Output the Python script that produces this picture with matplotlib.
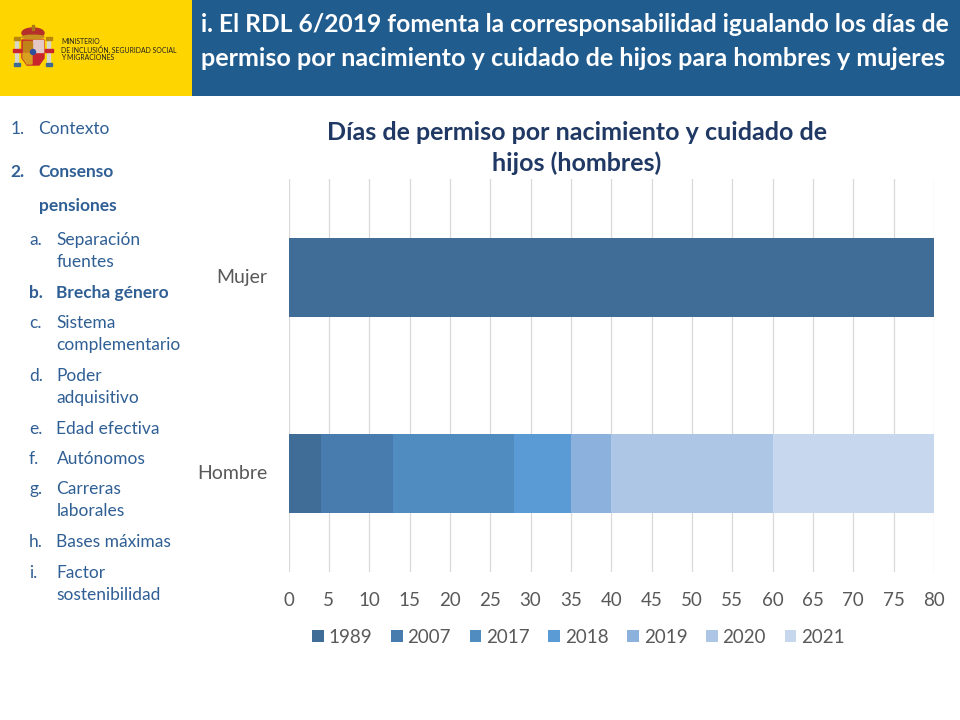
import matplotlib
matplotlib.use("Agg")
import matplotlib.pyplot as plt
from matplotlib.patches import Rectangle, Ellipse, Polygon

plt.rcParams["font.family"] = ["Lato", "DejaVu Sans"]
plt.rcParams["ytick.alignment"] = "center"

categories = ["Hombre", "Mujer"]
years = ["1989", "2007", "2017", "2018", "2019", "2020", "2021"]
hombre_days = [4, 9, 15, 7, 5, 20, 20]
mujer_days = [80, 0, 0, 0, 0, 0, 0]
colors = ["#3F6D98", "#487CAE", "#518CC1", "#5B9BD5", "#8CB1DD", "#ADC6E5", "#C7D7ED"]
x_ticks = list(range(0, 85, 5))

header_lines = [
    "i. El RDL 6/2019 fomenta la corresponsabilidad igualando los días de",
    "permiso por nacimiento y cuidado de hijos para hombres y mujeres",
]
ministry_lines = ["MINISTERIO", "DE INCLUSIÓN, SEGURIDAD SOCIAL", "Y MIGRACIONES"]
chart_title = "Días de permiso por nacimiento y cuidado de\nhijos (hombres)"

# number, text, y position, bold
menu_top = [
    ("1.", "Contexto", 129, False),
    ("2.", "Consenso", 172, True),
    ("", "pensiones", 206, True),
]
menu_sub = [
    ("a.", ["Separación", "fuentes"], 240, False),
    ("b.", ["Brecha género"], 293, True),
    ("c.", ["Sistema", "complementario"], 323, False),
    ("d.", ["Poder", "adquisitivo"], 376, False),
    ("e.", ["Edad efectiva"], 429, False),
    ("f.", ["Autónomos"], 459, False),
    ("g.", ["Carreras", "laborales"], 489, False),
    ("h.", ["Bases máximas"], 542, False),
    ("i.", ["Factor", "sostenibilidad"], 573, False),
]

MENU_COLOR = "#2F5F94"
TEXT_GREY = "#595959"


def draw_crest(bg):
    # shield
    bg.add_patch(Polygon([(22, 40), (44, 40), (44, 58), (39, 65), (27, 65), (22, 58)], color="#C8262C", zorder=3))
    bg.add_patch(Rectangle((33, 40), 10, 12, color="#E4C8C8", zorder=4))
    bg.add_patch(Rectangle((23, 41), 9, 10, color="#C0831A", zorder=4))
    bg.add_patch(Polygon([(23, 53), (32, 53), (32, 64), (27, 64), (23, 58)], color="#D9A020", zorder=4))
    bg.add_patch(Ellipse((33, 52), 5, 5, color="#2F4F9A", zorder=5))
    # crown
    bg.add_patch(Ellipse((33, 33), 22, 10, color="#B5302A", zorder=3))
    bg.add_patch(Ellipse((33, 37), 22, 3.5, color="#C89020", zorder=4))
    bg.add_patch(Polygon([(32, 25), (34, 25), (34, 30), (32, 30)], color="#A87818", zorder=4))
    # columns and ribbons
    for x in (16.5, 48.5):
        bg.add_patch(Rectangle((x - 1.5, 39), 3, 25, color="#D8D8C8", zorder=3))
        bg.add_patch(Rectangle((x - 3, 37), 6, 3, color="#B8860B", zorder=4))
        bg.add_patch(Rectangle((x - 3, 63), 6, 3, color="#3E6A94", zorder=4))
        bg.add_patch(Rectangle((x - 4, 49), 8, 3, color="#C8262C", zorder=4))


def main():
    fig = plt.figure(figsize=(9.6, 7.2), dpi=100, facecolor="white")

    # page furniture in pixel coordinates
    bg = fig.add_axes([0, 0, 1, 1])
    bg.set_xlim(0, 960)
    bg.set_ylim(720, 0)
    bg.axis("off")
    bg.add_patch(Rectangle((0, 0), 192, 96, color="#FFD500", lw=0))
    bg.add_patch(Rectangle((192, 0), 768, 96, color="#215C8F", lw=0))
    draw_crest(bg)

    for line, y in zip(ministry_lines, (42, 50, 58)):
        bg.text(61, y, line, fontsize=4.95, color="#222222", va="center")

    for line, y, size in zip(header_lines, (25, 58), (17.75, 18.1)):
        bg.text(201, y, line, fontsize=size, fontweight="bold", color="white", va="center")

    for num, label, y, bold in menu_top:
        weight = "bold" if bold else "normal"
        bg.text(10.5, y, num, fontsize=12.5, color=MENU_COLOR, va="center", fontweight=weight)
        bg.text(38.5, y, label, fontsize=12.5, color=MENU_COLOR, va="center", fontweight=weight)

    for num, lines, y, bold in menu_sub:
        weight = "bold" if bold else "normal"
        bg.text(29, y, num, fontsize=12.5, color=MENU_COLOR, va="center", fontweight=weight)
        for i, line in enumerate(lines):
            bg.text(56.5, y + i * 22, line, fontsize=12.5, color=MENU_COLOR, va="center", fontweight=weight)

    bg.text(577, 148, chart_title, fontsize=18, fontweight="bold", color="#1F3864",
            ha="center", va="center", linespacing=1.4)

    # the chart
    ax = fig.add_axes([288.5 / 960, 1 - 572 / 720, (934 - 288.5) / 960, (572 - 179) / 720])
    ax.patch.set_alpha(0)
    left = [0, 0]
    for i, year in enumerate(years):
        values = [hombre_days[i], mujer_days[i]]
        ax.barh(categories, values, left=left, height=0.4, color=colors[i], label=year, zorder=3)
        left = [left[0] + values[0], left[1] + values[1]]

    ax.set_xlim(0, 80)
    ax.set_ylim(-0.5, 1.5)
    ax.set_xticks(x_ticks)
    ax.grid(axis="x", color="#D9D9D9", lw=0.9, zorder=0)
    ax.tick_params(axis="both", length=0, labelsize=13.5, labelcolor=TEXT_GREY)
    ax.tick_params(axis="x", pad=14.5)
    ax.tick_params(axis="y", pad=15, labelsize=14)
    for spine in ax.spines.values():
        spine.set_visible(False)

    ax.legend(loc="center", bbox_to_anchor=(578.5 / 645.5 - 288.5 / 645.5, -0.1655), ncol=7, frameon=False,
              fontsize=13.5, labelcolor=TEXT_GREY, handlelength=0.62, handleheight=0.62,
              handletextpad=0.27, columnspacing=0.985, borderpad=0)

    fig.savefig("out.png", dpi=100)
    plt.close(fig)


if __name__ == "__main__":
    main()
